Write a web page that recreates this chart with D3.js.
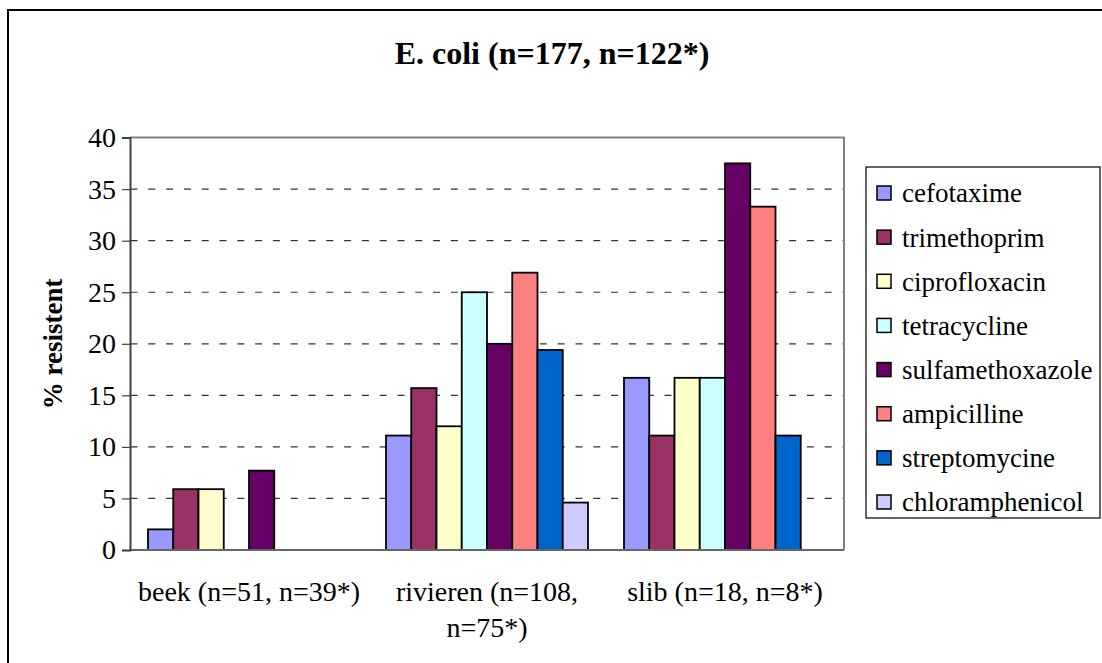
<!DOCTYPE html>
<html>
<head>
<meta charset="utf-8">
<script src="https://cdn.jsdelivr.net/npm/d3@7"></script>
<style>
  html, body { margin: 0; padding: 0; background: #fff; }
  svg { display: block; }
  svg text { font-family: "Liberation Serif", "Times New Roman", serif; }
</style>
</head>
<body>
<svg id="chart" width="1102" height="663"></svg>
<script>
const SERIF = "Liberation Serif, Times New Roman, serif";

// Sampling sites (x-axis groups), each label split over lines
const categories = ["beek (n=51, n=39*)", "rivieren (n=108, n=75*)", "slib (n=18, n=8*)"];
const categoryLines = [["beek (n=51, n=39*)"], ["rivieren (n=108,", "n=75*)"], ["slib (n=18, n=8*)"]];

// Antibiotics (series)
const antibiotics = ["cefotaxime", "trimethoprim", "ciprofloxacin", "tetracycline",
                     "sulfamethoxazole", "ampicilline", "streptomycine", "chloramphenicol"];
const colors = ["#9999FF", "#993366", "#FFFFCC", "#CCFFFF", "#660066", "#FF8080", "#0066CC", "#CCCCFF"];

// % resistant per site, in antibiotic order
const beek     = [2.0, 5.9, 5.9, 0, 7.7, 0, 0, 0];
const rivieren = [11.1, 15.7, 12.0, 25.0, 20.0, 26.9, 19.4, 4.6];
const slib     = [16.7, 11.1, 16.7, 16.7, 37.5, 33.3, 11.1, 0];
const seriesBySite = [beek, rivieren, slib];

const yTicks = [0, 5, 10, 15, 20, 25, 30, 35, 40];

const svg = d3.select("#chart");

// outer chart frame
svg.append("rect")
  .attr("x", 8).attr("y", 10).attr("width", 1200).attr("height", 1000)
  .attr("fill", "none").attr("stroke", "#000").attr("stroke-width", 2);

const plot = { left: 130, right: 844, top: 137.6, bottom: 550 };

const y = d3.scaleLinear().domain([0, 40]).range([plot.bottom, plot.top]);
const x0 = d3.scaleBand().domain(categories).range([plot.left, plot.right]).padding(0);
const x1 = d3.scaleBand().domain(antibiotics).range([18, x0.bandwidth() - 18]).padding(0);

// dashed gridlines
svg.append("g").selectAll("line")
  .data(yTicks.filter(t => t > 0 && t < 40))
  .join("line")
  .attr("x1", plot.left).attr("x2", plot.right)
  .attr("y1", d => y(d)).attr("y2", d => y(d))
  .attr("stroke", "#333").attr("stroke-width", 1.2)
  .attr("stroke-dasharray", "7,10.8")
  .attr("stroke-dashoffset", 17.3);

// plot area border (top and right)
svg.append("path")
  .attr("d", `M${plot.left},${plot.top}H${plot.right}V${plot.bottom}`)
  .attr("fill", "none").attr("stroke", "#808080").attr("stroke-width", 2);

// bars
const groups = svg.append("g").selectAll("g")
  .data(categories)
  .join("g")
  .attr("transform", d => `translate(${x0(d)},0)`);

groups.selectAll("rect")
  .data((d, i) => antibiotics.map((a, j) => ({ a, j, v: seriesBySite[i][j] })).filter(e => e.v > 0))
  .join("rect")
  .attr("x", d => x1(d.a))
  .attr("y", d => y(d.v))
  .attr("width", x1.bandwidth())
  .attr("height", d => y(0) - y(d.v))
  .attr("fill", d => colors[d.j])
  .attr("stroke", "#000").attr("stroke-width", 1.8);

// x axis line
svg.append("line")
  .attr("x1", plot.left).attr("x2", plot.right)
  .attr("y1", plot.bottom).attr("y2", plot.bottom)
  .attr("stroke", "#666").attr("stroke-width", 2);

// y axis
const yAxis = d3.axisLeft(y).tickValues(yTicks).tickSize(8).tickPadding(6).tickFormat(d3.format("d"));
const yg = svg.append("g").attr("transform", `translate(${plot.left},0)`).call(yAxis)
  .attr("font-family", SERIF);
yg.select(".domain").attr("stroke", "#404040").attr("stroke-width", 2);
yg.selectAll(".tick line").attr("stroke", "#404040").attr("stroke-width", 1.2);
yg.selectAll(".tick text")
  .attr("font-family", SERIF)
  .attr("font-size", 28).attr("fill", "#000");

// category labels
svg.append("g").selectAll("text")
  .data(categories)
  .join("text")
  .attr("x", d => x0(d) + x0.bandwidth() / 2)
  .attr("y", 601)
  .attr("text-anchor", "middle")
  .attr("font-family", SERIF)
  .attr("font-size", 28)
  .each(function (d, i) {
    const t = d3.select(this);
    categoryLines[i].forEach((line, k) => {
      t.append("tspan").attr("x", x0(d) + x0.bandwidth() / 2).attr("dy", k === 0 ? 0 : 36).text(line);
    });
  });

// title
svg.append("text")
  .attr("x", 552).attr("y", 64)
  .attr("text-anchor", "middle")
  .attr("font-family", SERIF)
  .attr("font-size", 32).attr("font-weight", "bold")
  .text("E. coli (n=177, n=122*)");

// y axis title
svg.append("text")
  .attr("transform", `translate(62,${(plot.top + plot.bottom) / 2}) rotate(-90)`)
  .attr("text-anchor", "middle")
  .attr("font-family", SERIF)
  .attr("font-size", 27).attr("font-weight", "bold")
  .text("% resistent");

// legend
const legend = svg.append("g");
legend.append("rect")
  .attr("x", 866).attr("y", 167).attr("width", 234).attr("height", 351)
  .attr("fill", "#fff").attr("stroke", "#000").attr("stroke-width", 1.2);

const legendY = d3.scalePoint().domain(antibiotics).range([193, 502]);
const items = legend.selectAll("g.item")
  .data(antibiotics)
  .join("g").attr("class", "item")
  .attr("transform", d => `translate(0,${legendY(d)})`);

items.append("rect")
  .attr("x", 877).attr("y", -7).attr("width", 14).attr("height", 14)
  .attr("fill", (d, i) => colors[i]).attr("stroke", "#000").attr("stroke-width", 1.5);

items.append("text")
  .attr("x", 902).attr("y", 0).attr("dy", "0.35em")
  .attr("font-family", SERIF)
  .attr("font-size", 27)
  .text(d => d);
</script>
</body>
</html>
